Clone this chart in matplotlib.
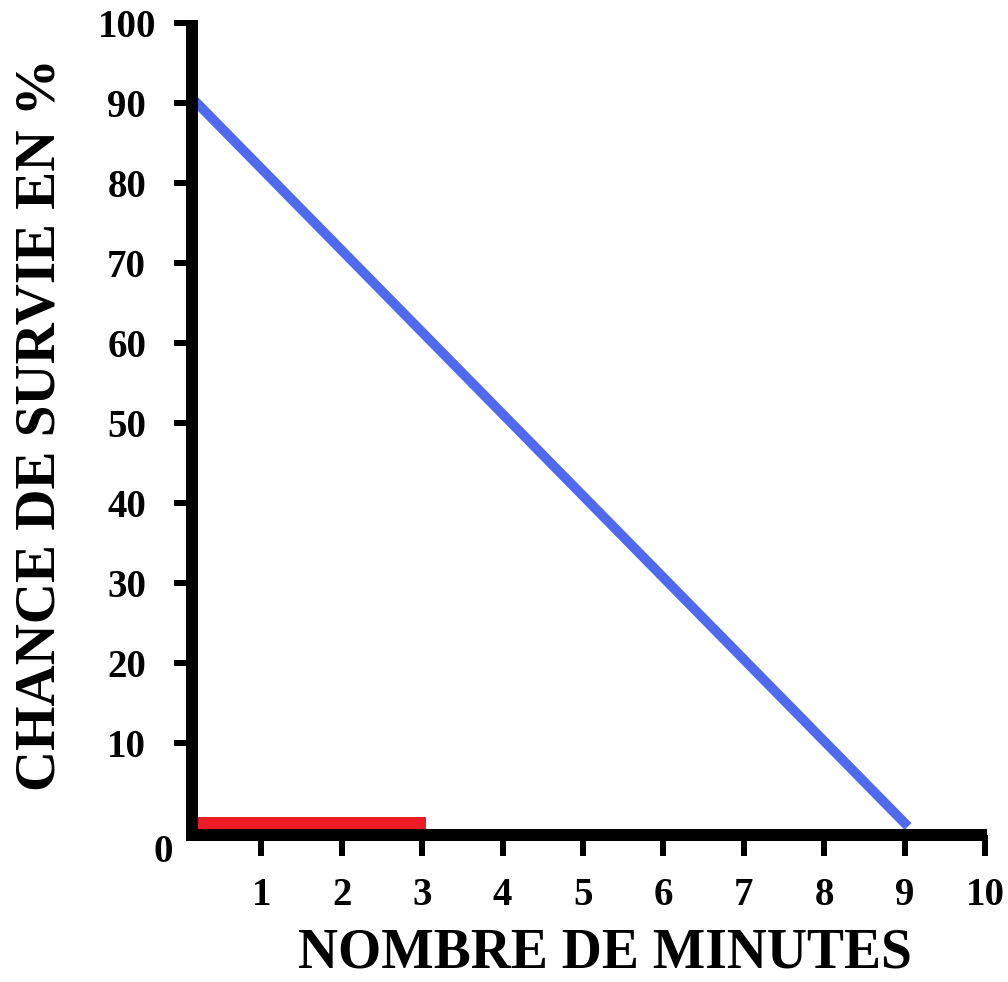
import numpy as np
import matplotlib
matplotlib.use('Agg')
import matplotlib.pyplot as plt

plt.rcParams['font.family'] = ['Liberation Serif', 'DejaVu Serif']
plt.rcParams['font.weight'] = 'bold'

# data
minutes = [0.2, 9.0]
survival = [90, 0]
red_minutes = [0, 3.05]
red_level = [0, 0]

x_ticks = [1, 2, 3, 4, 5, 6, 7, 8, 9, 10]
y_ticks = [10, 20, 30, 40, 50, 60, 70, 80, 90, 100]

BLUE = '#4F6AEF'
RED = '#ED1C24'

fig = plt.figure(figsize=(10.08, 9.82), dpi=100)
ax = fig.add_axes([192 / 1008, (982 - 835) / 982, 795 / 1008, 815 / 982])

ax.plot(red_minutes, red_level, color=RED, lw=8.64, solid_capstyle='butt')
ax.plot(minutes, survival, color=BLUE, lw=7.0, solid_capstyle='projecting')

ax.set_xlim(0.137, 10.025)
ax.set_ylim(-1.5, 100.4)

for side in ['top', 'right']:
    ax.spines[side].set_visible(False)
for side in ['left', 'bottom']:
    ax.spines[side].set_linewidth(8.64)
    ax.spines[side].set_capstyle('butt')
ax.spines['left'].set_bounds(-2.25, 100.4)
ax.spines['left'].set_clip_on(False)

ax.set_xticks(x_ticks)
ax.set_yticks(y_ticks)
ax.set_xticklabels([str(t) for t in x_ticks])
ax.set_yticklabels([str(t) for t in y_ticks])
ax.tick_params(axis='x', direction='out', length=15, width=4.3, pad=15,
               labelsize=28, colors='black')
ax.tick_params(axis='y', direction='out', length=13, width=4.3, pad=34,
               labelsize=28, colors='black')
for lab in ax.get_yticklabels():
    lab.set_horizontalalignment('center')
for lab in ax.get_xticklabels() + ax.get_yticklabels():
    lab.set_fontweight('bold')

# origin label in the corner
ax.annotate('0', xy=(0, 0), xycoords='axes fraction', xytext=(-29, -17),
            textcoords='offset pixels', ha='center', va='center',
            fontsize=28, fontweight='bold', annotation_clip=False)

ax.set_xlabel('NOMBRE DE MINUTES', fontsize=40, fontweight='bold')
ax.xaxis.set_label_coords(0.519, -0.145)
ax.xaxis.label.set_verticalalignment('center')
ax.set_ylabel('CHANCE DE SURVIE EN %', fontsize=41, fontweight='bold')
ax.yaxis.set_label_coords(-0.191, 0.503)
ax.yaxis.label.set_verticalalignment('center')
ax.yaxis.label.set_horizontalalignment('center')

fig.savefig('out.png', dpi=100)
